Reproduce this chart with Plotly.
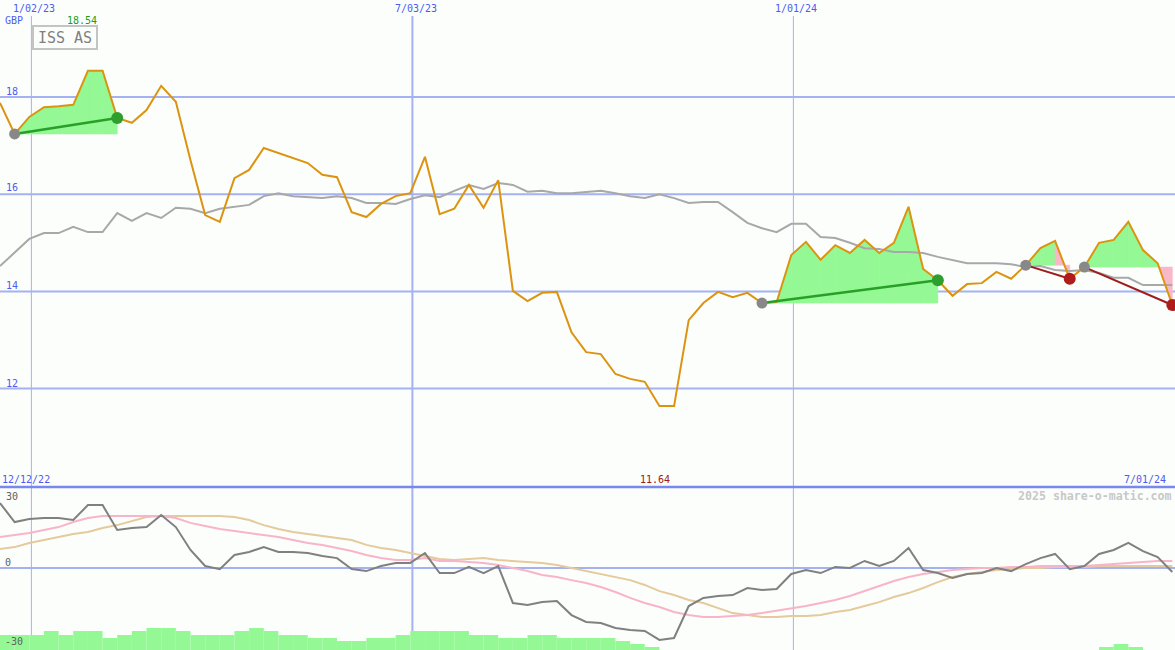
import pandas as pd
import plotly.graph_objects as go

# ---------------- data ----------------
dates = pd.date_range("2022-12-18", periods=81, freq="7D")

price = [17.88, 17.24, 17.59, 17.79, 17.81, 17.84, 18.54, 18.54, 17.57, 17.47,
         17.73, 18.23, 17.90, 16.70, 15.57, 15.43, 16.33, 16.50, 16.95, 16.85,
         16.74, 16.64, 16.40, 16.35, 15.63, 15.53, 15.80, 15.96, 16.02, 16.77,
         15.59, 15.70, 16.19, 15.72, 16.29, 14.01, 13.80, 13.97, 13.99, 13.16,
         12.75, 12.71, 12.30, 12.20, 12.14, 11.64, 11.64, 13.41, 13.76, 13.99,
         13.88, 13.97, 13.76, 13.78, 14.75, 15.02, 14.65, 14.95, 14.79, 15.06,
         14.79, 15.00, 15.74, 14.46, 14.23, 13.91, 14.15, 14.17, 14.40, 14.26,
         14.54, 14.89, 15.04, 14.26, 14.50, 15.00, 15.06, 15.43, 14.85, 14.58, 13.72]

moving_avg = [14.52, 14.81, 15.08, 15.20, 15.20, 15.33, 15.22, 15.22, 15.61, 15.45,
              15.61, 15.51, 15.72, 15.70, 15.61, 15.70, 15.74, 15.78, 15.96, 16.02,
              15.96, 15.94, 15.92, 15.96, 15.92, 15.82, 15.82, 15.80, 15.90, 15.98,
              15.94, 16.07, 16.19, 16.11, 16.23, 16.19, 16.05, 16.07, 16.02, 16.02,
              16.05, 16.07, 16.02, 15.96, 15.92, 16.00, 15.92, 15.82, 15.84, 15.84,
              15.63, 15.41, 15.30, 15.22, 15.39, 15.39, 15.12, 15.10, 15.00, 14.89,
              14.87, 14.81, 14.81, 14.79, 14.71, 14.65, 14.58, 14.58, 14.58, 14.56,
              14.50, 14.52, 14.44, 14.42, 14.44, 14.38, 14.28, 14.28, 14.13, 14.13, 14.13]

oscillator = [29.5, 20.9, 22.3, 22.7, 22.7, 21.8, 28.6, 28.6, 17.3, 18.2,
              18.6, 24.1, 18.6, 8.2, 0.9, -0.5, 5.9, 7.3, 9.5, 7.3,
              7.3, 6.8, 5.5, 4.5, -0.5, -1.4, 0.9, 2.3, 2.3, 6.8,
              -2.3, -2.3, 0.5, -2.3, 0.9, -15.9, -16.8, -15.5, -15.0, -21.4,
              -24.5, -25.0, -27.3, -28.2, -28.6, -32.7, -31.8, -17.3, -13.6, -12.7,
              -12.3, -9.1, -10.0, -9.5, -2.7, -0.9, -2.3, 0.5, 0.0, 3.2,
              0.9, 3.2, 9.1, -0.9, -2.3, -4.5, -2.7, -2.3, 0.0, -1.4,
              1.8, 4.5, 6.4, -0.5, 0.9, 6.4, 8.2, 11.4, 7.7, 5.0, -1.8]

osc_fast = [14.1, 15.0, 15.9, 17.3, 18.6, 20.9, 22.7, 23.6, 23.6, 23.6,
            23.6, 23.6, 22.7, 20.5, 19.1, 17.7, 16.8, 15.9, 15.0, 14.1,
            12.7, 11.4, 10.5, 9.1, 7.7, 5.9, 4.5, 3.6, 3.6, 4.5,
            3.2, 3.2, 2.7, 2.3, 1.4, 0.0, -1.4, -3.2, -4.1, -5.5,
            -6.8, -8.6, -10.9, -13.6, -15.9, -17.7, -20.0, -21.4, -22.3, -22.3,
            -21.8, -21.4, -20.5, -19.5, -18.6, -17.3, -15.9, -14.5, -12.7, -10.5,
            -8.2, -5.9, -4.1, -2.7, -1.8, -0.9, -0.5, 0.0, 0.0, 0.5,
            0.5, 0.9, 0.9, 0.9, 0.9, 1.4, 1.8, 2.3, 2.7, 3.2, 3.2]

osc_slow = [8.6, 9.5, 11.4, 12.7, 14.1, 15.5, 16.4, 18.2, 19.5, 21.4,
            23.2, 23.6, 23.6, 23.6, 23.6, 23.6, 23.2, 21.8, 19.5, 17.7,
            16.4, 15.5, 14.5, 13.6, 12.7, 10.5, 9.1, 8.2, 6.8, 5.5,
            4.1, 3.6, 4.1, 4.5, 3.6, 3.2, 2.7, 2.3, 1.4, 0.0,
            -1.4, -2.7, -4.1, -5.5, -7.7, -10.5, -12.3, -14.5, -15.9, -18.2,
            -20.5, -21.4, -22.3, -22.3, -21.8, -21.8, -21.4, -20.0, -19.1, -17.3,
            -15.5, -13.2, -11.4, -9.1, -6.4, -4.1, -2.7, -1.8, -0.9, -0.5,
            0.0, 0.0, 0.5, 0.5, 0.5, 0.9, 0.9, 0.9, 0.9, 0.9, 0.9]

volume = [15, 15, 15, 19, 15, 19, 19, 12, 15, 19,
          22, 22, 19, 15, 15, 15, 19, 22, 19, 15,
          15, 12, 12, 9, 9, 12, 12, 15, 19, 19,
          19, 19, 15, 15, 12, 12, 15, 15, 12, 12,
          12, 12, 9, 6, 3, 0, 0, 0, 0, 0,
          0, 0, 0, 0, 0, 0, 0, 0, 0, 0,
          0, 0, 0, 0, 0, 0, 0, 0, 0, 0,
          0, 0, 0, 0, 0, 3, 6, 3, 0, 0, 0]

signals = [(1, 8), (52, 64), (70, 73), (74, 80)]  # (start index, end index)

price_ticks = [18, 16, 14, 12]
date_ticks = ["2023-01-02", "2023-07-03", "2024-01-01"]
date_tick_labels = ["1/02/23", "7/03/23", "1/01/24"]

# ---------------- styling ----------------
W, H = 1175, 650
BG = "#fcfefc"
GRID = "#a4b2f2"
SEP = "#7888ee"
BLUE_TXT = "#4c5cf0"
FONT = "DejaVu Sans Mono"
GREEN_FILL = "#94f894"
PINK_FILL = "#f8b8c8"
ORANGE = "#dc9410"

split = (H - 487) / H  # panel split in paper coordinates

fig = go.Figure()

# volume bars (bottom panel, own axis)
fig.add_trace(go.Bar(x=dates, y=volume, xaxis="x", yaxis="y3",
                     marker=dict(color=GREEN_FILL, line=dict(width=0)),
                     offset=0, width=7 * 86400000, showlegend=False))

# signal fills
for s, e in signals:
    base = price[s]
    for i in range(s, e):
        col = GREEN_FILL if price[i + 1] >= base else PINK_FILL
        fig.add_trace(go.Scatter(
            x=[dates[i], dates[i + 1], dates[i + 1], dates[i], dates[i]],
            y=[price[i], price[i + 1], base, base, price[i]],
            fill="toself", fillcolor=col, mode="lines", line=dict(width=0.6, color=col),
            xaxis="x", yaxis="y", showlegend=False, hoverinfo="skip"))

# moving average
fig.add_trace(go.Scatter(x=dates, y=moving_avg, mode="lines",
                         line=dict(color="#a8a8a8", width=2),
                         xaxis="x", yaxis="y", showlegend=False))
# price
fig.add_trace(go.Scatter(x=dates, y=price, mode="lines",
                         line=dict(color=ORANGE, width=2),
                         xaxis="x", yaxis="y", showlegend=False))

# signal lines and dots
for s, e in signals:
    up = price[e] >= price[s]
    lc = "#28a028" if up else "#a01c1c"
    fig.add_trace(go.Scatter(x=[dates[s], dates[e]], y=[price[s], price[e]],
                             mode="lines", line=dict(color=lc, width=2.5 if up else 2),
                             xaxis="x", yaxis="y", showlegend=False))
    fig.add_trace(go.Scatter(x=[dates[s]], y=[price[s]], mode="markers",
                             marker=dict(color="#888888", size=11),
                             xaxis="x", yaxis="y", showlegend=False))
    fig.add_trace(go.Scatter(x=[dates[e]], y=[price[e]], mode="markers",
                             marker=dict(color="#2e9e2e" if up else "#b01c1c", size=12),
                             xaxis="x", yaxis="y", showlegend=False))

# oscillator panel lines
fig.add_trace(go.Scatter(x=dates, y=osc_slow, mode="lines",
                         line=dict(color="#e4ca9c", width=2),
                         xaxis="x", yaxis="y2", showlegend=False))
fig.add_trace(go.Scatter(x=dates, y=osc_fast, mode="lines",
                         line=dict(color="#f8b4c8", width=2),
                         xaxis="x", yaxis="y2", showlegend=False))
fig.add_trace(go.Scatter(x=dates, y=oscillator, mode="lines",
                         line=dict(color="#808080", width=2),
                         xaxis="x", yaxis="y2", showlegend=False))

shapes = []
for d, w in zip(date_ticks, [1, 2, 1]):
    shapes.append(dict(type="line", xref="x", yref="paper", x0=d, x1=d,
                       y0=0, y1=1 - 16 / H, line=dict(color=GRID, width=w), layer="below"))
for v in price_ticks:
    shapes.append(dict(type="line", xref="paper", yref="y", x0=0, x1=1, y0=v, y1=v,
                       line=dict(color=GRID, width=2), layer="below"))
shapes.append(dict(type="line", xref="paper", yref="y2", x0=0, x1=1, y0=0, y1=0,
                   line=dict(color=GRID, width=2), layer="below"))
shapes.append(dict(type="line", xref="paper", yref="paper", x0=0, x1=1, y0=split, y1=split,
                   line=dict(color=SEP, width=2.5), layer="below"))


def ann(text, px, py, color, size=10, **kw):
    return dict(text=text, x=px / W, y=1 - py / H, xref="paper", yref="paper",
                xanchor="center", yanchor="middle", showarrow=False,
                font=dict(family=FONT, size=size, color=color), **kw)


annotations = []
for lab, cx in zip(date_tick_labels, [34, 416, 796]):
    annotations.append(ann(lab, cx, 8, BLUE_TXT))
annotations.append(ann("GBP", 14, 20, BLUE_TXT))
for v, py in zip(price_ticks, [91, 188, 285, 383]):
    annotations.append(ann(str(v), 12, py, BLUE_TXT))
annotations.append(ann(f"{max(price):.2f}", 82, 21, "#18a018"))
annotations.append(ann(f"{min(price):.2f}", 655, 479, "#a01818"))
annotations.append(ann("12/12/22", 26, 479, BLUE_TXT))
annotations.append(ann("7/01/24", 1145, 479, BLUE_TXT))
annotations.append(ann("<b>2025 share-o-matic.com</b>", 1095, 496, "#c8c8c8", size=11.6))
annotations.append(ann("30", 12, 496, "#606060"))
annotations.append(ann("0", 8, 562, "#606060"))
annotations.append(ann("-30", 14, 641, "#606060"))
annotations.append(ann("ISS AS", 65, 37, "#808080", size=15,
                       bordercolor="#c4c4c4", borderwidth=2, borderpad=2,
                       bgcolor=BG, width=58, height=17))

fig.update_layout(
    width=W, height=H,
    margin=dict(l=0, r=0, t=0, b=0),
    paper_bgcolor=BG, plot_bgcolor=BG,
    showlegend=False, barmode="overlay",
    xaxis=dict(type="date", range=["2022-12-18", "2024-07-01 07:00"],
               showgrid=False, zeroline=False, showticklabels=False, visible=False),
    yaxis=dict(domain=[split, 1], range=[9.975, 19.996], showgrid=False,
               zeroline=False, showticklabels=False, visible=False),
    yaxis2=dict(domain=[0, split], range=[-37.27, 36.82], showgrid=False,
                zeroline=False, showticklabels=False, visible=False),
    yaxis3=dict(domain=[0, split], overlaying="y2", range=[0, 163], showgrid=False,
                zeroline=False, showticklabels=False, visible=False),
    shapes=shapes, annotations=annotations,
)

fig.write_html("out.html",
               config={"displayModeBar": False},
               post_script="document.body.style.margin='0';"
                           "document.body.style.overflow='hidden';"
                           "document.body.style.background='" + BG + "';")
